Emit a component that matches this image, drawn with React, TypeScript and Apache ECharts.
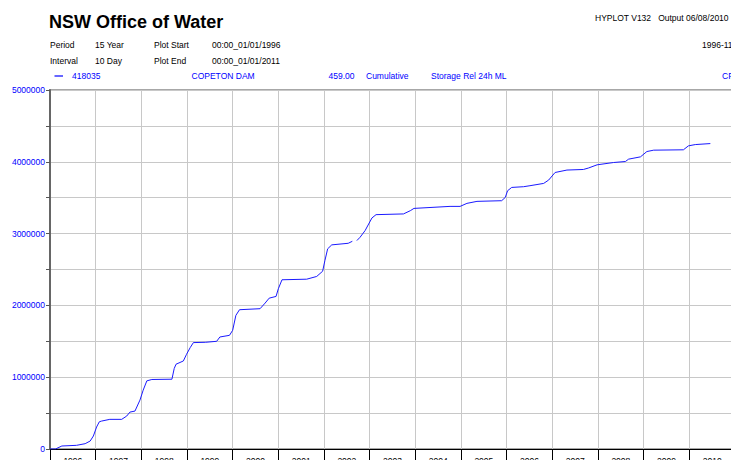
import React, { useEffect, useRef } from "react";
import * as echarts from "echarts";

const yearLabels = ["1996","1997","1998","1999","2000","2001","2002","2003","2004","2005","2006","2007","2008","2009","2010"];

// decimal year of each reading
const timeYears = [
  1996.0, 1996.12, 1996.26, 1996.58, 1996.77, 1996.88, 1996.95, 1997.02, 1997.08, 1997.13,
  1997.31, 1997.57, 1997.68, 1997.75, 1997.86, 1997.97, 1998.04, 1998.12, 1998.23, 1998.67,
  1998.72, 1998.76, 1998.92, 1998.99, 1999.07, 1999.14, 1999.40, 1999.65, 1999.72, 1999.93,
  2000.00, 2000.07, 2000.15, 2000.60, 2000.71, 2000.80, 2000.95, 2001.00, 2001.08, 2001.62,
  2001.84, 2001.97, 2002.02, 2002.08, 2002.17, 2002.53, 2002.62, 2002.67, 2002.72, 2002.79,
  2002.90, 2003.05, 2003.14, 2003.74, 2003.89, 2003.97, 2004.76, 2004.98, 2005.13, 2005.35,
  2005.89, 2005.97, 2006.02, 2006.11, 2006.37, 2006.51, 2006.81, 2006.92, 2007.06, 2007.32,
  2007.68, 2007.79, 2007.98, 2008.34, 2008.60, 2008.67, 2008.93, 2009.07, 2009.22, 2009.87,
  2009.98, 2010.13, 2010.46,
];

// cumulative storage release, ML (null = missing data gap)
const cumulativeML: (number | null)[] = [
  0, 0, 42000, 51000, 74000, 111000, 181000, 306000, 379000, 389000,
  413000, 413000, 459000, 514000, 528000, 681000, 819000, 949000, 968000, 972000,
  1121000, 1181000, 1226000, 1319000, 1412000, 1482000, 1486000, 1500000, 1560000, 1583000,
  1653000, 1861000, 1940000, 1954000, 2032000, 2101000, 2125000, 2232000, 2357000, 2365000,
  2403000, 2476000, 2625000, 2788000, 2843000, 2865000, 2893000, null, 2903000, 2949000,
  3042000, 3218000, 3264000, 3274000, 3319000, 3351000, 3379000, 3379000, 3421000, 3449000,
  3458000, 3504000, 3597000, 3643000, 3653000, 3667000, 3699000, 3746000, 3851000, 3885000,
  3893000, 3913000, 3958000, 3990000, 4004000, 4037000, 4069000, 4143000, 4162000, 4167000,
  4222000, 4240000, 4254000,
];

const FONT = "'Liberation Sans', Arial, sans-serif";
const BLUE = "#0000ff";

export default function App() {
  const ref = useRef<HTMLDivElement>(null);

  useEffect(() => {
    if (!ref.current) return;
    const chart = echarts.init(ref.current, undefined, { renderer: "svg" });

    const txt = (x: number, y: number, text: string, color = "#000", size = 8.5, weight = "normal") => ({
      type: "text",
      x,
      y,
      silent: true,
      style: {
        text,
        fill: color,
        font: `${weight} ${size}px ${FONT}`,
        verticalAlign: "middle",
        align: "left",
      },
    });

    const seriesData = timeYears.map((t, i) => [t, cumulativeML[i] === null ? "-" : cumulativeML[i]]);

    chart.setOption({
      animation: false,
      backgroundColor: "#ffffff",
      textStyle: { fontFamily: FONT },
      grid: {
        left: 50,
        top: 90,
        width: 685,
        height: 359,
        show: true,
        borderColor: "#8a8a8a",
        borderWidth: 1.5,
        containLabel: false,
        outerBoundsMode: "none",
      },
      xAxis: [
        {
          type: "value",
          min: 1996,
          max: 2011,
          interval: 1,
          position: "bottom",
          axisLine: { show: false },
          axisTick: { show: false },
          axisLabel: { show: false },
          splitLine: { show: true, lineStyle: { color: "#c8c8c8", width: 1 } },
        },
        {
          type: "category",
          data: yearLabels,
          boundaryGap: true,
          position: "bottom",
          axisLine: { show: true, lineStyle: { color: "#000", width: 1 } },
          axisTick: { show: true, length: 14, lineStyle: { color: "#000", width: 1 } },
          axisLabel: { show: true, color: "#000", fontSize: 8.5, fontFamily: FONT, margin: 7, interval: 0 },
          splitLine: { show: false },
        },
      ],
      yAxis: {
        type: "value",
        min: 0,
        max: 5000000,
        interval: 500000,
        axisLine: { show: true, lineStyle: { color: "#666", width: 2 } },
        axisTick: { show: true, length: 4, lineStyle: { color: "#555", width: 1 } },
        axisLabel: {
          color: BLUE,
          fontSize: 8.5,
          fontFamily: FONT,
          margin: 5,
          formatter: (v: number) => (v % 1000000 === 0 ? String(v) : ""),
        },
        splitLine: { show: true, lineStyle: { color: "#c8c8c8", width: 1 } },
      },
      series: [
        {
          type: "line",
          xAxisIndex: 0,
          data: seriesData,
          showSymbol: false,
          symbol: "none",
          connectNulls: false,
          lineStyle: { color: "#1a1aff", width: 1 },
        },
      ],
      graphic: [
        txt(49, 21.7, "NSW Office of Water", "#000", 18, "bold"),
        txt(595, 18.3, "HYPLOT V132   Output 06/08/2010"),
        txt(50, 44.5, "Period"),
        txt(95, 44.5, "15 Year"),
        txt(154, 44.5, "Plot Start"),
        txt(212, 44.5, "00:00_01/01/1996"),
        txt(702, 44.5, "1996-11"),
        txt(50, 60.7, "Interval"),
        txt(95, 60.7, "10 Day"),
        txt(154, 60.7, "Plot End"),
        txt(212, 60.7, "00:00_01/01/2011"),
        {
          type: "line",
          silent: true,
          shape: { x1: 54.5, y1: 76, x2: 63, y2: 76 },
          style: { stroke: BLUE, lineWidth: 1.2 },
        },
        txt(72, 76, "418035", BLUE),
        txt(191.5, 76, "COPETON DAM", BLUE),
        txt(328.5, 76, "459.00", BLUE),
        txt(366, 76, "Cumulative", BLUE),
        txt(431, 76, "Storage Rel 24h ML", BLUE),
        txt(722, 76, "CP", BLUE),
      ],
    });

    return () => chart.dispose();
  }, []);

  return (
    <div
      ref={ref}
      style={{ position: "fixed", left: 0, top: 0, width: 731, height: 460, background: "#fff" }}
    />
  );
}
